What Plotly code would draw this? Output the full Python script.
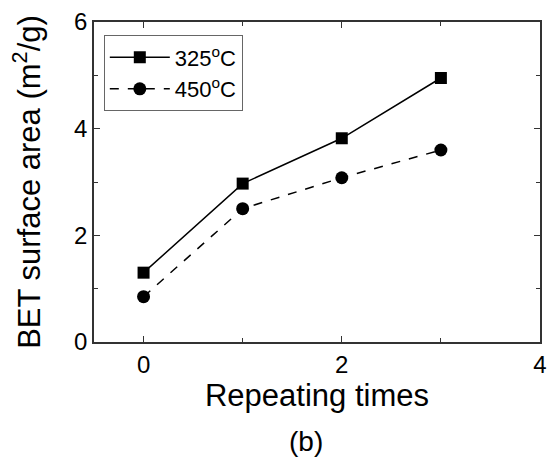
import plotly.graph_objects as go

repeats = [0, 1, 2, 3]
s325 = [1.3, 2.97, 3.82, 4.95]
s450 = [0.85, 2.5, 3.08, 3.6]
names = ["325<sup>o</sup>C", "450<sup>o</sup>C"]

fig = go.Figure()
fig.add_trace(go.Scatter(x=repeats, y=s325, name=names[0], mode="lines+markers",
                         line=dict(color="black", width=1.5, dash="solid"),
                         marker=dict(symbol="square", size=12, color="black")))
fig.add_trace(go.Scatter(x=repeats, y=s450, name=names[1], mode="lines+markers",
                         line=dict(color="black", width=1.5, dash="dash"),
                         marker=dict(symbol="circle", size=13, color="black")))

font = "Liberation Sans, Arial, sans-serif"
axis_common = dict(showgrid=False, zeroline=False, showline=True, linecolor="#333",
                   linewidth=1.5, mirror="ticks", ticks="inside", ticklen=6,
                   tickcolor="#333", tickfont=dict(size=24, color="black", family=font))

fig.update_xaxes(range=[-0.5, 4], tickmode="array", tickvals=[0, 2, 4],
                 minor=dict(tickvals=[1, 3], ticks="inside", ticklen=4, tickcolor="#333"),
                 title=dict(text="Repeating times", font=dict(size=31, color="black", family=font), standoff=8),
                 **axis_common)
fig.update_yaxes(range=[0, 6], tickmode="array", tickvals=[0, 2, 4, 6],
                 minor=dict(tickvals=[1, 3, 5], ticks="inside", ticklen=4, tickcolor="#333"),
                 title=dict(text="BET surface area (m<sup>2</sup>/g)", font=dict(size=31, color="black", family=font), standoff=24),
                 **axis_common)

fig.add_annotation(text="(b)", x=0.476, y=-0.31, xref="paper", yref="paper",
                   showarrow=False, font=dict(size=28, color="black", family=font),
                   xanchor="center", yanchor="middle")

fig.update_layout(width=555, height=465, margin=dict(l=94, r=8, t=22, b=123),
                  plot_bgcolor="white", paper_bgcolor="white",
                  font=dict(family=font, color="black"),
                  legend=dict(x=0.022, y=0.958, xanchor="left", yanchor="top",
                              bordercolor="#666", borderwidth=1, bgcolor="white",
                              font=dict(size=22, color="black", family=font),
                              itemwidth=60, tracegroupgap=0))

fig.write_html("out.html", config={"displayModeBar": False},
               post_script="document.body.style.margin='0';")
